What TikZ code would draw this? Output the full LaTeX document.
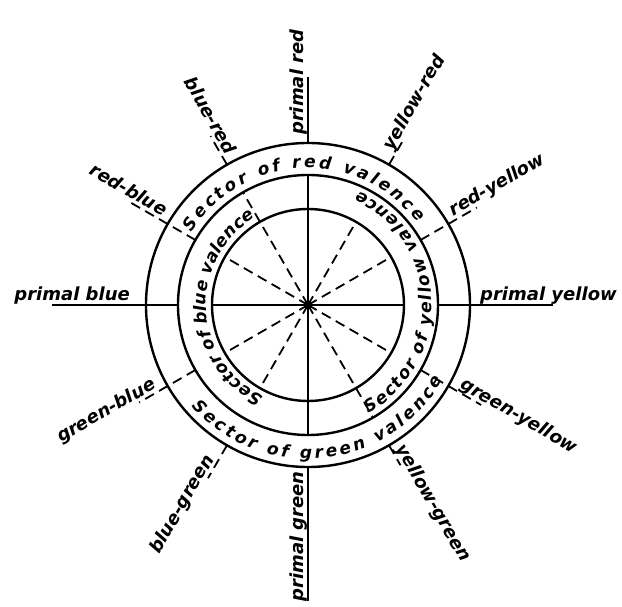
\documentclass[tikz,border=0pt]{standalone}
\usepackage{fontspec}
\setmainfont{DejaVu Sans}
\usetikzlibrary{calc, decorations.text}
\tikzset{every node/.style={font=\fontsize{18}{20}\selectfont\bfseries\itshape}}
\newcommand{\arcfont}{\fontsize{17}{19}\selectfont\bfseries\itshape}

\begin{document}
\begin{tikzpicture}[
  ring/.style={line width=2.4pt, inkcol},
  spoke/.style={line width=2pt, inkcol},
  dspoke/.style={line width=1.8pt, inkcol, dash pattern=on 10pt off 6pt},
  rlabel/.style={anchor=base west, inner sep=0pt, text=inkcol},
  llabel/.style={anchor=base east, inner sep=0pt, text=inkcol},
  arctext/.style={decoration={text along path,
      text align={fit to path}, text={|\arcfont|#1}}, decorate}]
  % Page frame (reference proportions).
  \path[use as bounding box, fill=white] (-308pt,-302pt) rectangle (314pt,305pt);

  \colorlet{inkcol}{black}
  \coordinate (O) at (0,0);

  % Three rings.
  \draw[ring] (O) circle[radius=96pt];
  \draw[ring] (O) circle[radius=130pt];
  \draw[ring] (O) circle[radius=162pt];

  % Solid spokes: primal colours.
  \draw[spoke] (180:96pt) -- (0:96pt);
  \draw[spoke] (0:130pt) -- (0:245pt);
  \draw[spoke] (180:130pt) -- (180:256pt);
  \draw[spoke] (90:130pt) -- (270:130pt);
  \draw[spoke] (90:162pt) -- (90:228pt);
  \draw[spoke] (270:162pt) -- (270:296pt);
  \fill[inkcol] (O) circle[radius=4pt];

  % Dashed spokes: mixed colours.
  \foreach \a/\e in {30/195, 60/190, 120/195, 150/205, 210/195, 240/200, 300/185, 330/200} {
    \draw[dspoke] (O) -- (\a:96pt);
    \draw[dspoke] (\a:162pt) -- (\a:\e pt);
  }
  \foreach \a in {120, 300}
    \draw[dspoke] (\a:96pt) -- (\a:130pt);
  \foreach \a in {30, 150, 210, 330}
    \draw[dspoke] (\a:130pt) -- (\a:162pt);

  % Sector names along the rings.
  \path[arctext={Sector of red valence}] (148:137pt) arc[start angle=148, end angle=37, radius=137pt];
  \path[arctext={Sector of green valence}] (-139:154pt) arc[start angle=-139, end angle=-29, radius=154pt];
  \path[arctext={Sector of yellow valence}] (-61:124pt) arc[start angle=-61, end angle=66, radius=124pt];
  \path[arctext={Sector of blue valence}] (244:102pt) arc[start angle=244, end angle=121, radius=102pt];

  % Labels, right half.
  \node[rlabel, rotate=90] (pred) at ($(90:170pt)+(180:4pt)$) {primal red};
  \node[rlabel, rotate=60] (yred) at ($(60:175pt)+(150:4pt)$) {yellow-red};
  \node[rlabel, rotate=30] (ryel) at ($(30:170pt)+(120:4pt)$) {red-yellow};
  \node[rlabel] (pyel) at ($(0:172pt)+(90:4pt)$) {primal yellow};
  \node[rlabel, rotate=-30] (gyel) at ($(-30:172pt)+(60:4pt)$) {green-yellow};
  \node[rlabel, rotate=-60] (ygrn) at ($(-60:168pt)+(30:4pt)$) {yellow-green};

  % Labels, left half.
  \node[llabel, rotate=-60] (bred) at ($(120:170pt)+(30:4pt)$) {blue-red};
  \node[llabel, rotate=-30] (rblu) at ($(150:170pt)+(60:4pt)$) {red-blue};
  \node[llabel] (pblu) at ($(180:178pt)+(90:4pt)$) {primal blue};
  \node[llabel, rotate=30] (gblu) at ($(210:172pt)+(120:4pt)$) {green-blue};
  \node[llabel, rotate=60] (bgrn) at ($(240:180pt)+(150:4pt)$) {blue-green};
  \node[llabel, rotate=90] (pgrn) at ($(270:166pt)+(180:4pt)$) {primal green};
\end{tikzpicture}
\end{document}
